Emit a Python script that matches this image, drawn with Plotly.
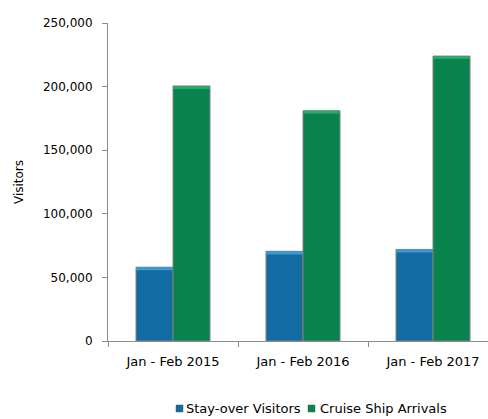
import plotly.graph_objects as go

# Visitor arrivals, January - February
periods = ["Jan - Feb 2015", "Jan - Feb 2016", "Jan - Feb 2017"]
stay_over = [58000, 70500, 72000]
cruise = [200500, 181000, 224000]
series_names = ["Stay-over Visitors", "Cruise Ship Arrivals"]

BLUE, BLUE_HI = "#136ba3", "#3a9ad3"
GREEN, GREEN_HI = "#08834d", "#2aa86b"
AXIS = "#8c8c8c"
FONT = "DejaVu Sans"

W, H = 488, 419
ML, MR, MT, MB = 108, 0, 23, 78
PW, PH = W - ML - MR, H - MT - MB
HI = 2400  # height of the bevel highlight strip on top of each bar


def px_x(p):
    return (p - ML) / PW


def px_y(p):
    return (H - MB - p) / PH


fig = go.Figure()
for vals, col, hi, grp in [(stay_over, BLUE, BLUE_HI, "a"), (cruise, GREEN, GREEN_HI, "b")]:
    fig.add_trace(go.Bar(
        x=periods, y=vals, offsetgroup=grp, marker_color=col,
        marker_line=dict(color="#808080", width=1), showlegend=False,
        hoverinfo="y",
    ))
    fig.add_trace(go.Bar(
        x=periods, y=[HI] * len(vals), base=[v - HI for v in vals],
        offsetgroup=grp, marker_color=hi, marker_line=dict(width=0),
        showlegend=False, hoverinfo="skip",
    ))

# legend drawn as swatches + labels below the plot
legend_items = [(series_names[0], BLUE, 176, 184), (series_names[1], GREEN, 308, 318)]
for name, col, sx, tx in legend_items:
    fig.add_shape(type="rect", xref="paper", yref="paper",
                  x0=px_x(sx), x1=px_x(sx + 7), y0=px_y(405), y1=px_y(412),
                  fillcolor=col, line=dict(color="#5a5a5a", width=0.5))
    fig.add_annotation(text=name, xref="paper", yref="paper", x=px_x(tx), y=px_y(408.5),
                       xanchor="left", yanchor="middle", showarrow=False,
                       font=dict(family=FONT, size=13, color="#000000"))

fig.update_layout(
    width=W, height=H,
    margin=dict(l=ML, r=MR, t=MT, b=MB, pad=0),
    paper_bgcolor="white", plot_bgcolor="white",
    barmode="group", bargap=0.431, bargroupgap=0,
    font=dict(family=FONT, size=12, color="#000000"),
)
fig.update_xaxes(
    type="category", range=[-0.5, 2.423], tickson="boundaries",
    ticks="outside", ticklen=5, tickcolor=AXIS, showline=True, linecolor=AXIS,
    linewidth=1, showgrid=False, tickfont=dict(size=13), ticklabelstandoff=8,
)
fig.update_yaxes(
    range=[0, 250000], dtick=50000, tickformat=",", ticks="outside", ticklen=5,
    tickcolor=AXIS, showline=True, linecolor=AXIS, linewidth=1, showgrid=False,
    zeroline=False, tickfont=dict(size=12), ticklabelstandoff=7,
    title=dict(text="Visitors", font=dict(size=12), standoff=16),
)

fig.write_html("out.html")
